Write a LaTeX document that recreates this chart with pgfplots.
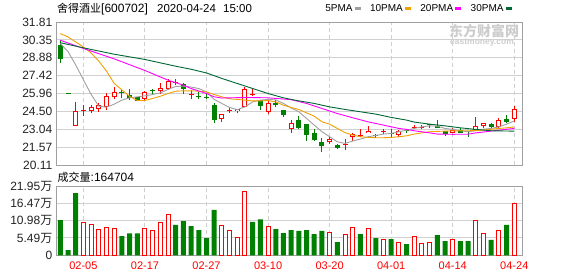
\documentclass[border=0pt]{standalone}
\usepackage{fontspec}
\setmainfont{Liberation Sans}
\newfontfamily\cjk{Noto Sans CJK SC}
\usepackage{pgfplots}
\usepackage{pgfplotstable}
\pgfplotsset{compat=1.18}
\definecolor{upred}{RGB}{255,0,0}
\definecolor{dngreen}{RGB}{0,128,0}
\definecolor{maA}{RGB}{160,160,160}
\definecolor{maB}{RGB}{240,160,0}
\definecolor{maC}{RGB}{255,0,255}
\definecolor{maD}{RGB}{0,102,51}
\definecolor{gridc}{RGB}{208,208,208}
\definecolor{framec}{RGB}{160,160,160}
\definecolor{txt}{RGB}{34,34,34}
\definecolor{wm}{RGB}{205,205,205}

\pgfplotstableread{
i o h l c
2 23.33 25.29 23.33 24.53
3 24.55 25.02 24.15 24.61
4 24.56 25.00 24.34 24.86
5 24.70 25.21 24.50 25.02
6 24.88 26.02 24.61 25.75
7 25.65 26.51 25.49 26.06
11 25.51 26.14 25.37 26.06
13 26.16 26.79 25.92 26.41
14 26.30 27.14 26.24 26.98
15 26.87 27.14 26.65 26.92
17 25.86 26.22 25.51 25.92
21 23.90 24.29 23.64 24.29
22 24.52 24.83 24.39 24.58
23 24.53 24.72 24.34 24.72
24 24.88 26.51 24.88 26.30
25 25.86 26.30 25.76 25.92
27 24.48 25.37 24.29 25.21
30 23.04 23.80 22.77 23.55
35 21.98 22.44 21.84 22.27
37 21.80 22.25 21.35 21.86
38 22.44 22.76 22.11 22.63
39 22.52 23.06 22.39 22.57
40 22.76 23.31 22.76 22.93
42 22.80 23.04 22.66 22.84
44 22.58 22.98 22.39 22.90
46 23.19 23.39 23.04 23.23
47 23.19 23.39 23.06 23.23
51 22.76 23.12 22.72 22.98
54 23.01 24.02 23.01 23.29
55 23.29 23.53 23.17 23.53
57 23.25 23.94 23.12 23.77
59 23.86 24.94 23.66 24.67
}\up

\pgfplotstableread{
i o h l c
0 29.91 30.35 28.47 28.83
1 25.92 25.92 25.92 25.92
8 26.06 26.30 25.57 26.00
9 25.89 26.30 25.43 25.62
10 25.70 25.72 25.35 25.40
12 26.19 26.32 25.81 26.16
16 26.73 26.79 25.97 26.30
18 25.72 26.08 25.49 25.68
19 25.64 26.02 25.51 25.60
20 25.02 25.16 23.58 23.80
26 25.45 25.48 24.61 24.94
28 25.21 25.43 24.88 25.02
29 24.61 24.65 24.07 24.18
31 23.80 24.12 23.04 23.12
32 23.47 23.50 22.11 22.58
33 22.76 23.04 22.09 22.17
34 22.03 22.31 21.17 21.68
36 21.76 21.84 21.46 21.54
41 22.53 22.66 22.33 22.48
43 22.74 23.09 22.39 22.69
45 22.95 23.04 22.76 22.90
48 23.40 23.47 23.12 23.37
49 23.33 23.80 23.12 23.12
50 22.90 22.90 22.50 22.66
52 23.01 23.17 22.76 22.76
53 22.88 22.90 22.44 22.83
56 23.45 23.58 23.12 23.25
58 23.86 24.21 23.53 23.61
}\dn

\pgfplotstableread{
i v
0 30.05
1 29.40
2 28.30
3 27.10
4 25.90
5 24.94
6 24.85
7 25.10
8 25.43
9 25.62
10 25.70
11 25.78
12 25.89
13 26.02
14 26.30
15 26.55
16 26.57
17 26.50
18 26.38
19 26.10
20 25.49
21 25.16
22 24.83
23 24.65
24 24.88
25 25.29
26 25.43
27 25.49
28 25.45
29 25.16
30 24.80
31 24.48
32 23.94
33 23.39
34 22.85
35 22.44
36 22.03
37 21.90
38 22.09
39 22.25
40 22.44
41 22.55
42 22.66
43 22.71
44 22.85
45 22.98
46 23.12
47 23.25
48 23.33
49 23.31
50 23.12
51 23.04
52 22.93
53 22.85
54 22.93
55 23.06
56 23.12
57 23.25
58 23.47
59 23.74
}\maa

\pgfplotstableread{
i v
0 30.86
1 30.59
2 30.18
3 29.77
4 29.28
5 28.62
6 27.80
7 26.80
8 26.27
9 25.74
10 25.40
11 25.40
12 25.57
13 25.75
14 25.97
15 26.16
16 26.19
17 26.19
18 26.16
19 26.10
20 25.89
21 25.70
22 25.54
23 25.49
24 25.43
25 25.37
26 25.37
27 25.40
28 25.29
29 25.02
30 24.83
31 24.67
32 24.39
33 24.12
34 23.66
35 23.47
36 23.12
37 22.78
38 22.58
39 22.44
40 22.39
41 22.36
42 22.36
43 22.39
44 22.44
45 22.52
46 22.66
47 22.76
48 22.85
49 22.88
50 22.90
51 22.92
52 22.93
53 22.93
54 22.95
55 22.98
56 23.06
57 23.12
58 23.17
59 23.24
}\mab

\pgfplotstableread{
i v
0 30.32
3 29.65
7 28.80
11 27.85
14 27.06
16 26.65
17 26.38
19 25.97
20 25.70
21 25.60
24 25.65
27 25.62
29 25.52
30 25.47
32 25.16
34 24.75
36 24.34
38 23.99
40 23.66
42 23.39
44 23.12
45 23.04
46 22.93
48 22.76
49 22.66
51 22.64
53 22.65
54 22.76
56 22.90
57 22.98
59 23.12
}\mac

\pgfplotstableread{
i v
0 30.12
3 29.70
7 29.18
11 28.75
15 28.20
17 27.95
19 27.65
21 27.20
23 26.79
25 26.38
27 25.97
29 25.62
31 25.37
33 25.16
35 24.88
37 24.67
39 24.48
41 24.29
43 24.02
45 23.80
46 23.64
48 23.47
50 23.33
52 23.17
54 23.04
56 22.93
59 22.90
}\mad

\pgfplotstableread{
i v
3 10.45
4 9.82
5 8.23
6 8.87
7 8.55
11 8.55
12 7.70
13 10.45
14 12.98
21 9.50
22 7.70
23 5.70
24 20.27
27 9.18
35 7.28
37 6.65
38 8.87
40 8.55
42 4.85
44 4.12
46 6.02
47 3.80
48 4.12
51 4.85
54 11.18
55 6.97
57 8.01
59 16.47
}\volup

\pgfplotstableread{
i v
0 11.18
1 1.68
2 19.73
8 6.11
9 6.97
10 6.97
15 9.60
16 10.86
17 9.28
18 8.01
19 5.48
20 14.35
25 10.55
26 11.40
28 8.33
29 7.06
30 8.01
31 7.70
32 8.01
33 6.74
34 7.70
36 4.21
39 6.74
41 5.48
43 5.16
45 3.58
49 6.43
50 4.53
52 4.53
53 4.53
56 4.85
58 9.60
}\voldn

\pgfplotsset{
  kstyle/.style={
    scale only axis, width=466bp,
    xmin=-0.56, xmax=60,
    xtick={3,11,19,27,35,43,51,59},
    xmajorgrids, ymajorgrids,
    x grid style={gridc, line width=1bp, dash pattern=on 4bp off 3bp},
    y grid style={gridc, line width=1bp},
    axis line style={framec, line width=1bp},
    major tick length=0pt,
    yticklabel style={font=\fontsize{12bp}{14bp}\selectfont, text=txt, inner sep=0pt, xshift=-3.5bp},
  },
  candlebar/.style={forget plot, draw=none, mark=none,
    error bars/.cd, y dir=plus, y explicit, error mark=none},
}

\begin{document}
\begin{tikzpicture}
\useasboundingbox (0,0) rectangle (578bp,-276bp);

% price panel
\begin{axis}[kstyle,
  at={(56bp,-165.3bp)}, anchor=south west, height=143.3bp,
  ymin=20.11, ymax=31.81,
  ytick={20.11,21.5725,23.035,24.4975,25.96,27.4225,28.885,30.3475,31.81},
  yticklabels={20.11,21.57,23.04,24.50,25.96,27.42,28.88,30.35,31.81},
  xticklabels={},
  legend style={at={(rel axis cs:1,1)}, anchor=east, xshift=-9bp, yshift=13.5bp,
    draw=none, fill=none, inner sep=0pt, outer sep=0pt,
    font=\fontsize{10bp}{12bp}\selectfont, legend columns=4,
    /tikz/every even column/.append style={column sep=7bp},
    nodes={inner sep=1bp}},
  legend plot pos=right,
  legend image code/.code={\draw[#1, line width=2.5bp] (0bp,0bp) -- (6bp,0bp);},
]
% down candles (green, filled)
\addplot[candlebar, error bar style={draw=dngreen, line width=1bp}]
  table[x=i, y=l, y error expr=\thisrow{h}-\thisrow{l}] {\dn};
\addplot[candlebar, error bar style={draw=dngreen, line width=5bp}]
  table[x=i, y expr={min(\thisrow{o},\thisrow{c})}, y error expr={max(abs(\thisrow{c}-\thisrow{o}),0.08)}] {\dn};
% up candles (red, hollow)
\addplot[candlebar, error bar style={draw=upred, line width=1bp}]
  table[x=i, y=l, y error expr=\thisrow{h}-\thisrow{l}] {\up};
\addplot[candlebar, error bar style={draw=upred, line width=5bp}]
  table[x=i, y expr={min(\thisrow{o},\thisrow{c})}, y error expr={max(abs(\thisrow{c}-\thisrow{o}),0.08)}] {\up};
\addplot[candlebar, error bar style={draw=white, line width=3bp}]
  table[x=i, y expr={min(\thisrow{o},\thisrow{c})+0.0815}, y error expr={max(abs(\thisrow{c}-\thisrow{o})-0.163,0)}] {\up};
% moving averages
\addplot[maA, line width=0.9bp, mark=none] table[x=i, y=v] {\maa};
\addplot[maB, line width=0.9bp, mark=none] table[x=i, y=v] {\mab};
\addplot[maC, line width=0.9bp, mark=none] table[x=i, y=v] {\mac};
\addplot[maD, line width=0.9bp, mark=none] table[x=i, y=v] {\mad};
\legend{5PMA,10PMA,20PMA,30PMA}
\end{axis}

% volume panel
\begin{axis}[kstyle,
  at={(56bp,-255.3bp)}, anchor=south west, height=69.3bp,
  ymin=0, ymax=21.95,
  ytick={0,5.4875,10.975,16.4625,21.95},
  yticklabels={0,5.49\smash{\cjk 万},10.98\smash{\cjk 万},16.47\smash{\cjk 万},21.95\smash{\cjk 万}},
  xticklabels={02-05,02-17,02-27,03-10,03-20,04-01,04-14,04-24},
  xticklabel style={font=\fontsize{11bp}{13bp}\selectfont, text=upred, inner sep=0pt, yshift=-6.5bp},
]
\addplot[ybar, bar shift=0pt, bar width=5bp, fill=dngreen, draw=none] table[x=i, y=v] {\voldn};
\addplot[ybar, bar shift=0pt, bar width=4bp, fill=white, draw=upred, line width=1bp] table[x=i, y=v] {\volup};
\end{axis}

% texts
\node[anchor=base west, inner sep=0pt, text=black, font=\fontsize{12bp}{14bp}\selectfont] at (57bp,-12.7bp) {{\cjk\fontsize{11bp}{13bp}\selectfont 舍得酒业}[600702]};
\node[anchor=base west, inner sep=0pt, text=black, font=\fontsize{11.5bp}{14bp}\selectfont] at (157bp,-12.7bp) {2020-04-24};
\node[anchor=base west, inner sep=0pt, text=black, font=\fontsize{11.5bp}{14bp}\selectfont] at (223bp,-12.7bp) {15:00};
\node[anchor=base west, inner sep=0pt, text=black, font=\fontsize{12bp}{14bp}\selectfont] at (57.5bp,-181.5bp) {{\cjk\fontsize{11bp}{13bp}\selectfont 成交量}:164704};
\node[anchor=west, inner sep=0pt, text=wm, font=\cjk\bfseries\fontsize{14bp}{14bp}\selectfont] at (449bp,-31bp) {东方财富网};
\node[anchor=west, inner sep=0pt, text=wm, font=\bfseries\fontsize{8.5bp}{10bp}\selectfont] at (450bp,-43bp) {eastmoney.com};
\end{tikzpicture}
\end{document}
